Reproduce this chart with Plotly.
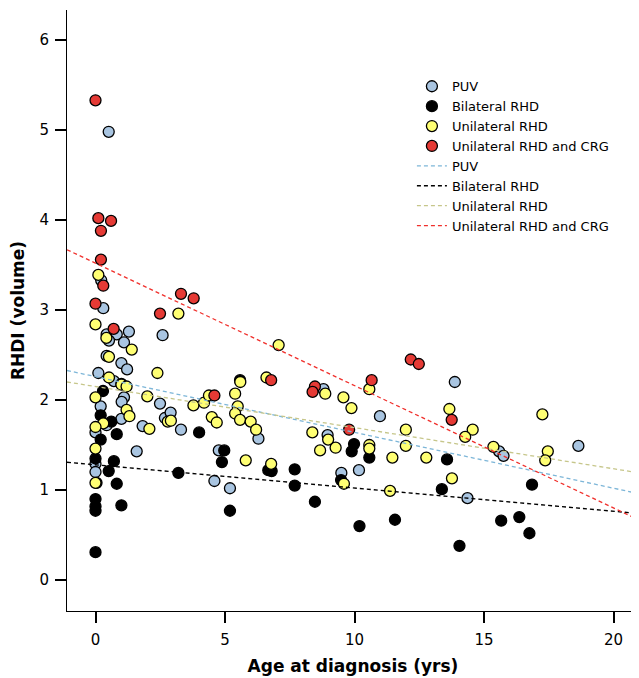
import plotly.graph_objects as go

# ---- data ----
puv_x = [0.51, 0.22, 0.30, 1.29, 0.43, 0.82, 0.52, 1.10, 2.59, 0.43, 1.00, 1.22, 0.11, 0.71, 1.00,
         1.10, 1.01, 0.20, 1.00, 0.43, 0.00, 1.59, 0.00, 0.00, 2.49, 1.82, 2.68, 2.90, 3.30, 4.76,
         4.59, 5.19, 6.29, 8.96, 8.80, 10.98, 9.49, 10.17, 13.87, 15.58, 15.75, 18.64, 14.36]
puv_y = [4.98, 3.33, 3.02, 2.76, 2.73, 2.73, 2.66, 2.64, 2.72, 2.49, 2.41, 2.34, 2.30, 2.21, 2.18,
         2.03, 1.98, 1.93, 1.79, 1.72, 1.64, 1.43, 1.29, 1.20, 1.96, 1.71, 1.80, 1.86, 1.67, 1.44,
         1.10, 1.02, 1.57, 1.61, 2.12, 1.82, 1.19, 1.22, 2.20, 1.43, 1.38, 1.49, 0.91]

bil_x = [0.29, 0.20, 0.61, 0.82, 0.20, 0.00, 0.71, 0.51, 0.04, 0.82, 0.00, 0.00, 0.00, 1.00, 0.00,
         4.00, 3.20, 4.97, 4.88, 5.19, 5.58, 6.67, 6.80, 7.69, 7.69, 8.47, 9.98, 9.89, 10.57, 9.48,
         10.19, 11.56, 13.57, 13.37, 16.85, 14.05, 15.66, 16.36, 16.75]
bil_y = [2.10, 1.83, 1.76, 1.62, 1.56, 1.35, 1.32, 1.21, 1.08, 1.07, 0.90, 0.82, 0.77, 0.83, 0.31,
         1.64, 1.19, 1.44, 1.31, 0.77, 2.22, 1.22, 1.21, 1.23, 1.05, 0.87, 1.51, 1.43, 1.36, 1.11,
         0.60, 0.67, 1.34, 1.01, 1.06, 0.38, 0.66, 0.70, 0.52]

uni_x = [0.11, 0.00, 0.42, 1.40, 3.20, 0.52, 2.39, 0.52, 1.00, 1.20, 0.00, 2.00, 1.20, 1.31, 0.30,
         0.00, 0.00, 0.00, 2.08, 2.79, 2.91, 3.78, 4.19, 4.38, 4.49, 4.68, 7.07, 5.59, 5.39, 6.60,
         5.49, 5.39, 5.58, 5.99, 6.20, 5.80, 6.78, 8.37, 8.67, 8.98, 9.27, 8.87, 9.57, 9.88, 10.57,
         10.57, 10.57, 11.46, 9.59, 11.37, 13.66, 17.25, 11.98, 11.98, 14.56, 14.27, 12.77, 15.36,
         17.46, 17.36, 13.76]
uni_y = [3.39, 2.84, 2.69, 2.56, 2.96, 2.48, 2.30, 2.25, 2.17, 2.15, 2.03, 2.04, 1.89, 1.82, 1.74,
         1.70, 1.46, 1.08, 1.68, 1.76, 1.77, 1.94, 1.97, 2.05, 1.81, 1.75, 2.61, 2.20, 2.07, 2.25,
         1.93, 1.85, 1.78, 1.76, 1.67, 1.33, 1.29, 1.64, 1.44, 1.56, 1.47, 2.07, 2.03, 1.91, 2.12,
         1.50, 1.46, 1.36, 1.07, 0.99, 1.90, 1.84, 1.67, 1.49, 1.67, 1.59, 1.36, 1.48,
         1.43, 1.33, 1.13]

crg_x = [0.00, 0.11, 0.60, 0.21, 0.21, 0.30, 0.00, 0.70, 3.30, 3.79, 2.49, 4.59, 6.78, 8.47, 8.38,
         10.66, 9.79, 12.17, 12.48, 13.75]
crg_y = [5.33, 4.02, 3.99, 3.88, 3.56, 3.27, 3.07, 2.79, 3.18, 3.13, 2.96, 2.05, 2.22, 2.15, 2.09,
         2.22, 1.67, 2.45, 2.40, 1.78]

group_names = ["PUV", "Bilateral RHD", "Unilateral RHD", "Unilateral RHD and CRG"]
fit_intercept = [2.26, 1.28, 2.15, 3.52]
fit_slope = [-0.062, -0.0258, -0.0457, -0.136]

x_ticks = [0, 5, 10, 15, 20]
y_ticks = [0, 1, 2, 3, 4, 5, 6]

# ---- styling ----
FONT = "DejaVu Sans"
fills = ["#a9c5e1", "#000000", "#ffff73", "#e53a35"]
line_colors = ["#7db6d8", "#000000", "#c6c68a", "#f0302c"]
x_range = [-1.1, 20.98]
y_range = [-0.344, 6.333]

fig = go.Figure()
for name, xs, ys, fc in zip(group_names, [puv_x, bil_x, uni_x, crg_x],
                            [puv_y, bil_y, uni_y, crg_y], fills):
    fig.add_trace(go.Scatter(
        x=xs, y=ys, mode="markers", name=name,
        marker=dict(size=11, color=fc, line=dict(color="#000000", width=1.3)),
    ))

for name, b0, b1, lc in zip(group_names, fit_intercept, fit_slope, line_colors):
    fig.add_trace(go.Scatter(
        x=x_range, y=[b0 + b1 * x_range[0], b0 + b1 * x_range[1]],
        mode="lines", name=name,
        line=dict(color=lc, width=1.3, dash="4px,3px"),
    ))

# the page body adds an 8px offset, so the figure is sized to fit inside the window
fig.update_layout(
    width=631, height=670,
    margin=dict(l=59, r=0, t=2, b=67),
    paper_bgcolor="white", plot_bgcolor="white",
    font=dict(family=FONT, color="#000000"),
    showlegend=True,
    legend=dict(
        x=0.603, y=0.898, xanchor="left", yanchor="top",
        bgcolor="rgba(0,0,0,0)", font=dict(family=FONT, size=13),
        itemwidth=30, tracegroupgap=0,
    ),
    xaxis=dict(
        range=x_range, tickvals=x_ticks, ticktext=[str(v) for v in x_ticks],
        showgrid=False, zeroline=False, showline=True, linecolor="#000000", linewidth=1,
        ticks="outside", ticklen=11, tickcolor="#000000", tickwidth=1.5,
        tickfont=dict(family=FONT, size=15), automargin=False, ticklabelstandoff=4,
        title=dict(text="<b>Age at diagnosis (yrs)</b>", font=dict(family=FONT, size=17), standoff=12),
    ),
    yaxis=dict(
        range=y_range, tickvals=y_ticks, ticktext=[str(v) for v in y_ticks],
        showgrid=False, zeroline=False, showline=True, linecolor="#000000", linewidth=1,
        ticks="outside", ticklen=11, tickcolor="#000000", tickwidth=1.5,
        tickfont=dict(family=FONT, size=15), automargin=False, ticklabelstandoff=3,
        title=dict(text="<b>RHDI (volume)</b>", font=dict(family=FONT, size=17), standoff=13),
    ),
)

fig.write_html("out.html")
